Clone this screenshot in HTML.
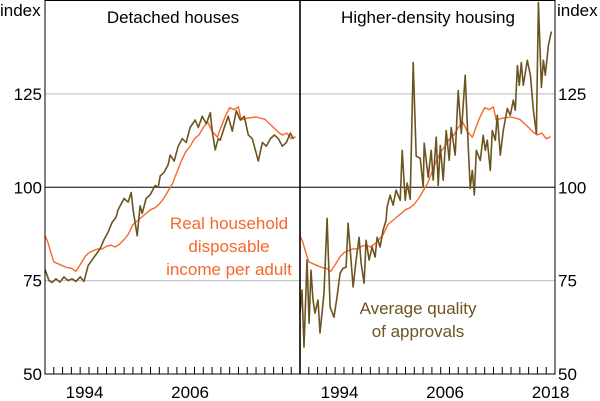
<!DOCTYPE html>
<html><head><meta charset="utf-8">
<style>
body{margin:0;background:#fff;}
svg{display:block;font-family:"Liberation Sans",Arial,sans-serif;}
</style></head>
<body>
<svg id="chart" width="600" height="401" viewBox="0 0 600 401" xmlns="http://www.w3.org/2000/svg">
</svg>
<script>
// ---- data ----
const incomeYears=[1990.0,1990.3,1990.6,1991,1991.5,1992,1992.5,1993,1993.5,1993.8,1994.2,1994.6,1995,1995.5,1996,1996.5,1997,1997.5,1998,1998.5,1999,1999.5,2000,2000.5,2001,2001.5,2002,2002.5,2003,2003.5,2004,2004.5,2005,2005.5,2006,2006.5,2007,2007.5,2008,2008.5,2009,2009.6,2010,2010.5,2011,2011.5,2012,2012.3,2013,2014,2015,2016,2016.5,2017,2017.5,2018,2018.5];
const incomeValues=[87,85.5,83,80,79.5,79,78.5,78.3,77.5,78.5,80,81.5,82.5,83,83.5,83.5,84.2,84.5,84,84.8,86,87.5,90,91,92,93,94,94.5,95.5,97,99,101,104,107,109.5,111,113,114,116,117.5,115,113.4,116,119,121.3,120.8,121.5,118,118.5,118.8,118.2,116,114.8,114,114.5,113,113.5];
const detachedYears=[1990,1990.46,1990.8,1991.25,1991.7,1992.16,1992.6,1993.07,1993.53,1994,1994.44,1994.9,1995.35,1995.8,1996.26,1996.72,1997.18,1997.63,1998.09,1998.31,1998.54,1999,1999.45,1999.8,2000.02,2000.48,2000.82,2001.05,2001.5,2001.96,2002.53,2002.87,2003.1,2003.55,2004,2004.24,2004.69,2005.15,2005.6,2006.06,2006.5,2007.08,2007.43,2007.88,2008.34,2008.8,2009.02,2009.36,2009.7,2009.93,2010.39,2010.84,2011.3,2011.75,2012.2,2012.67,2013.12,2013.58,2014.03,2014.26,2014.72,2015.17,2015.63,2016.08,2016.54,2017,2017.45,2017.9,2018.25];
const detachedValues=[78,75,74.5,75.5,74.6,76,75,75.5,74.8,76,74.8,79,80.5,82,83.5,86,88,90.6,92,94,95,97,96,98.6,94,87,95,93,97,98,100.5,100,103,104,106,108.6,107,111,113,112,116,118,116,119,117,120,115,110,113,112.6,116,119,115,120.5,118,119,114,113,109,107,112,111,113,114,113,111,112,114.5,113];
const densityYears=[1990.0,1990.23,1990.46,1990.8,1991.03,1991.25,1991.48,1991.71,1992.05,1992.28,1992.73,1993.08,1993.42,1993.87,1994.21,1994.56,1994.9,1995.24,1995.47,1995.69,1996.04,1996.38,1996.72,1996.95,1997.29,1997.52,1997.86,1998.2,1998.54,1998.77,1999.11,1999.45,1999.79,1999.91,2000.25,2000.59,2000.93,2001.39,2001.62,2001.96,2002.19,2002.53,2002.87,2003.21,2003.67,2004.01,2004.12,2004.58,2004.92,2005.15,2005.49,2005.72,2005.95,2006.29,2006.63,2006.97,2007.2,2007.65,2007.99,2008.34,2008.79,2009.13,2009.36,2009.59,2009.82,2010.05,2010.5,2010.84,2011.07,2011.3,2011.64,2011.87,2012.21,2012.44,2012.78,2013.12,2013.58,2013.92,2014.26,2014.49,2014.72,2014.94,2015.17,2015.4,2015.85,2016.2,2016.54,2016.88,2017.11,2017.45,2017.68,2017.9,2018.25,2018.59];
const densityValues=[66.3,72.5,57.2,80.5,63.6,77.8,69.8,66.3,69.8,61,71.7,91.7,67.9,65.2,70.6,77,78.3,78.6,90.4,84,73.3,80.5,86.6,79.7,74.3,85.8,80.5,84,81.3,86.6,84,88.5,91.2,94.7,97.9,95.2,99.2,96.5,109.9,96.5,101.1,96.8,133.4,108.3,107.8,100,111.8,102.7,109.9,101.9,113.4,100.5,111.2,101.9,115.2,107.2,116,108.6,125.9,114.4,130,111.2,99.7,104.5,97.9,109.9,107.2,113.9,109.9,112.6,104.5,115.2,112.6,119.3,108.6,115.2,121.1,119.3,123.3,120.6,132.6,127.3,133.4,127.3,134,130,120.6,114.4,149.5,126.7,134,130,138,141.7];
const yTicks=[50,75,100,125];
const xTickLabels=[1994,2006,2018];

// ---- layout ----
const NS="http://www.w3.org/2000/svg";
const svg=document.getElementById('chart');
const L=45,M=300,R=555,T=0.5,B=374;
const Y0=1990,Y1=2019;
function y(v){return B-(v-50)*(B-T)/100;}
function xl(yr){return L+(yr-Y0)*(M-L)/(Y1-Y0);}
function xr(yr){return M+(yr-Y0)*(R-M)/(Y1-Y0);}
function mk(tag,attrs){const e=document.createElementNS(NS,tag);for(const k in attrs)e.setAttribute(k,attrs[k]);svg.appendChild(e);return e;}

[75,125].forEach(v=>{
  const g=mk('line',{x1:L,x2:R,y1:y(v),y2:y(v),stroke:'#c8c8c8','stroke-width':1.2});
  
  
});
const g100=mk('line',{x1:L,x2:R,y1:y(100),y2:y(100),stroke:'#000','stroke-width':1});



for(let yr=1991;yr<=2018;yr++){
  [xl,xr].forEach(fx=>{
    const t=mk('line',{x1:fx(yr),x2:fx(yr),y1:B,y2:B-7,stroke:'#000','stroke-width':1});
    
    
  });
}
function line(xs,vs,fx,color,name,w){
  const d=xs.map((yr,i)=>(i?'L':'M')+fx(yr).toFixed(1)+','+y(vs[i]).toFixed(1)).join('');
  const p=mk('path',{d:d,fill:'none',stroke:color,'stroke-width':w,'stroke-linejoin':'round'});
  
  
}
const OR='#f7682a',OL='#6b5420';
line(incomeYears,incomeValues,xl,OR,'income-line-left',1.4);
line(detachedYears,detachedValues,xl,OL,'detached-approvals-line',1.6);
line(incomeYears,incomeValues,xr,OR,'income-line-right',1.4);
line(densityYears,densityValues,xr,OL,'higher-density-approvals-line',1.6);

const fr=mk('rect',{x:L,y:T,width:R-L,height:B-T,fill:'none',stroke:'#000','stroke-width':1});


const dv=mk('line',{x1:M,x2:M,y1:T,y2:B,stroke:'#000','stroke-width':1.6});



function txt(s,x,yy,anchor,color,name){
  const e=mk('text',{x:x,y:yy,'text-anchor':anchor,fill:color,'font-size':17});
  e.textContent=s;
  
  
  return e;
}
yTicks.forEach(v=>{
  txt(String(v),L-3,y(v)+6,'end','#000','y-tick-left-'+v);
  txt(String(v),R+3,y(v)+6,'start','#000','y-tick-right-'+v);
});
txt('index',0,16,'start','#000','y-axis-unit-left');
txt('index',R+2,16,'start','#000','y-axis-unit-right');
xTickLabels.forEach(yr=>{
  if(yr<2018) txt(String(yr),xl(yr+0.5),398,'middle','#000','x-label-left-'+yr);
  txt(String(yr),xr(yr+0.5),398,'middle','#000','x-label-right-'+yr);
});
txt('Detached houses',173,23,'middle','#000','panel-title-detached');
txt('Higher-density housing',428,23,'middle','#000','panel-title-higher-density');
txt('Real household',229,229,'middle',OR,'income-label-line1');
txt('disposable',229,252,'middle',OR,'income-label-line2');
txt('income per adult',229,275,'middle',OR,'income-label-line3');
txt('Average quality',418,314,'middle',OL,'approvals-label-line1');
txt('of approvals',418,337,'middle',OL,'approvals-label-line2');
</script>
</body></html>
